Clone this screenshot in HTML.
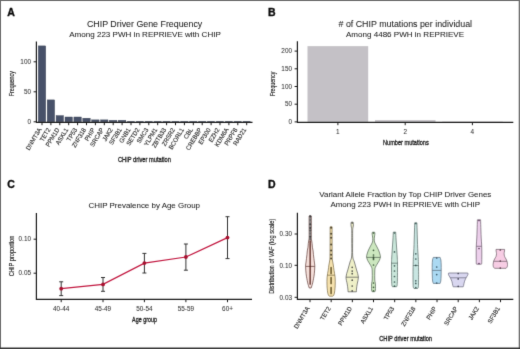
<!DOCTYPE html>
<html><head><meta charset="utf-8"><style>
html,body{margin:0;padding:0;background:#fff;}
svg{display:block;will-change:transform;}
text{font-family:"Liberation Sans", sans-serif;fill:#222;}
.lab{font-size:10.5px;font-weight:bold;fill:#0a0a0a;stroke:#0a0a0a;stroke-width:0.35px;}
.t1{font-size:8.85px;stroke:#222;stroke-width:0.05px;}
.t2{font-size:8.05px;stroke:#222;stroke-width:0.05px;}
.t3{font-size:7.95px;stroke:#222;stroke-width:0.05px;}
.tk{font-size:6.4px;fill:#333;stroke:#333;stroke-width:0.05px;}
.tkr{font-size:6.3px;fill:#2a2a2a;stroke:#2a2a2a;stroke-width:0.12px;}
.ax{font-size:8.1px;fill:#1a1a1a;stroke:#1a1a1a;stroke-width:0.32px;}
.axv{font-size:7.2px;fill:#1a1a1a;stroke:#1a1a1a;stroke-width:0.15px;}
</style></head><body>
<svg width="520" height="349" viewBox="0 0 520 349">
<defs><filter id="bl" x="0" y="0" width="100%" height="100%" color-interpolation-filters="sRGB"><feConvolveMatrix order="3" kernelMatrix="0.01 0.08 0.01 0.08 0.64 0.08 0.01 0.08 0.01" divisor="1" edgeMode="duplicate" preserveAlpha="true"/></filter></defs>
<g filter="url(#bl)">
<rect x="0" y="0" width="520" height="349" fill="#fff"/>
<g id="A">
<text x="7.3" y="15.9" class="lab">A</text>
<text x="144.6" y="26.8" class="t1" text-anchor="middle">CHIP Driver Gene Frequency</text>
<text x="145" y="36.6" class="t2" text-anchor="middle">Among 223 PWH in REPRIEVE with CHIP</text>
<rect x="38.30" y="45.90" width="7.4" height="75.90" fill="#475169" stroke="#373f52" stroke-width="0.4"/>
<rect x="47.20" y="99.90" width="7.4" height="21.90" fill="#475169" stroke="#373f52" stroke-width="0.4"/>
<rect x="56.10" y="115.62" width="7.4" height="6.18" fill="#475169" stroke="#373f52" stroke-width="0.4"/>
<rect x="65.00" y="117.00" width="7.4" height="4.80" fill="#475169" stroke="#373f52" stroke-width="0.4"/>
<rect x="73.90" y="117.00" width="7.4" height="4.80" fill="#475169" stroke="#373f52" stroke-width="0.4"/>
<rect x="82.80" y="118.20" width="7.4" height="3.60" fill="#475169" stroke="#373f52" stroke-width="0.4"/>
<rect x="91.70" y="119.88" width="7.4" height="1.92" fill="#475169" stroke="#373f52" stroke-width="0.4"/>
<rect x="100.60" y="119.88" width="7.4" height="1.92" fill="#475169" stroke="#373f52" stroke-width="0.4"/>
<rect x="109.50" y="120.30" width="7.4" height="1.50" fill="#475169" stroke="#373f52" stroke-width="0.4"/>
<rect x="118.40" y="120.30" width="7.4" height="1.50" fill="#475169" stroke="#373f52" stroke-width="0.4"/>
<rect x="127.30" y="121.20" width="7.4" height="0.60" fill="#475169" stroke="#373f52" stroke-width="0.4"/>
<rect x="136.20" y="121.20" width="7.4" height="0.60" fill="#475169" stroke="#373f52" stroke-width="0.4"/>
<rect x="145.10" y="121.20" width="7.4" height="0.60" fill="#475169" stroke="#373f52" stroke-width="0.4"/>
<rect x="154.00" y="121.20" width="7.4" height="0.60" fill="#475169" stroke="#373f52" stroke-width="0.4"/>
<rect x="162.90" y="121.20" width="7.4" height="0.60" fill="#475169" stroke="#373f52" stroke-width="0.4"/>
<rect x="171.80" y="121.20" width="7.4" height="0.60" fill="#475169" stroke="#373f52" stroke-width="0.4"/>
<rect x="180.70" y="121.20" width="7.4" height="0.60" fill="#475169" stroke="#373f52" stroke-width="0.4"/>
<rect x="189.60" y="121.20" width="7.4" height="0.60" fill="#475169" stroke="#373f52" stroke-width="0.4"/>
<rect x="198.50" y="121.20" width="7.4" height="0.60" fill="#475169" stroke="#373f52" stroke-width="0.4"/>
<rect x="207.40" y="121.20" width="7.4" height="0.60" fill="#475169" stroke="#373f52" stroke-width="0.4"/>
<rect x="216.30" y="121.20" width="7.4" height="0.60" fill="#475169" stroke="#373f52" stroke-width="0.4"/>
<rect x="225.20" y="121.20" width="7.4" height="0.60" fill="#475169" stroke="#373f52" stroke-width="0.4"/>
<rect x="234.10" y="121.20" width="7.4" height="0.60" fill="#475169" stroke="#373f52" stroke-width="0.4"/>
<rect x="243.00" y="121.20" width="7.4" height="0.60" fill="#475169" stroke="#373f52" stroke-width="0.4"/>
<line x1="36.4" y1="41.5" x2="36.4" y2="122.3" stroke="#1a1a1a" stroke-width="1.2"/>
<line x1="35.9" y1="122.3" x2="252.5" y2="122.3" stroke="#1a1a1a" stroke-width="1.2"/>
<line x1="33.6" y1="121.80" x2="36.4" y2="121.80" stroke="#1a1a1a" stroke-width="1"/>
<text x="31" y="124.00" class="tk" text-anchor="end">0</text>
<line x1="33.6" y1="91.80" x2="36.4" y2="91.80" stroke="#1a1a1a" stroke-width="1"/>
<text x="31" y="94.00" class="tk" text-anchor="end">50</text>
<line x1="33.6" y1="61.80" x2="36.4" y2="61.80" stroke="#1a1a1a" stroke-width="1"/>
<text x="31" y="64.00" class="tk" text-anchor="end">100</text>
<line x1="42.00" y1="122.3" x2="42.00" y2="125.2" stroke="#1a1a1a" stroke-width="1"/>
<text transform="translate(41.80,129.6) rotate(-59) scale(0.95,1)" class="tkr" text-anchor="end">DNMT3A</text>
<line x1="50.90" y1="122.3" x2="50.90" y2="125.2" stroke="#1a1a1a" stroke-width="1"/>
<text transform="translate(50.70,129.6) rotate(-59) scale(0.95,1)" class="tkr" text-anchor="end">TET2</text>
<line x1="59.80" y1="122.3" x2="59.80" y2="125.2" stroke="#1a1a1a" stroke-width="1"/>
<text transform="translate(59.60,129.6) rotate(-59) scale(0.95,1)" class="tkr" text-anchor="end">PPM1D</text>
<line x1="68.70" y1="122.3" x2="68.70" y2="125.2" stroke="#1a1a1a" stroke-width="1"/>
<text transform="translate(68.50,129.6) rotate(-59) scale(0.95,1)" class="tkr" text-anchor="end">ASXL1</text>
<line x1="77.60" y1="122.3" x2="77.60" y2="125.2" stroke="#1a1a1a" stroke-width="1"/>
<text transform="translate(77.40,129.6) rotate(-59) scale(0.95,1)" class="tkr" text-anchor="end">TP53</text>
<line x1="86.50" y1="122.3" x2="86.50" y2="125.2" stroke="#1a1a1a" stroke-width="1"/>
<text transform="translate(86.30,129.6) rotate(-59) scale(0.95,1)" class="tkr" text-anchor="end">ZNF318</text>
<line x1="95.40" y1="122.3" x2="95.40" y2="125.2" stroke="#1a1a1a" stroke-width="1"/>
<text transform="translate(95.20,129.6) rotate(-59) scale(0.95,1)" class="tkr" text-anchor="end">PHIP</text>
<line x1="104.30" y1="122.3" x2="104.30" y2="125.2" stroke="#1a1a1a" stroke-width="1"/>
<text transform="translate(104.10,129.6) rotate(-59) scale(0.95,1)" class="tkr" text-anchor="end">SRCAP</text>
<line x1="113.20" y1="122.3" x2="113.20" y2="125.2" stroke="#1a1a1a" stroke-width="1"/>
<text transform="translate(113.00,129.6) rotate(-59) scale(0.95,1)" class="tkr" text-anchor="end">JAK2</text>
<line x1="122.10" y1="122.3" x2="122.10" y2="125.2" stroke="#1a1a1a" stroke-width="1"/>
<text transform="translate(121.90,129.6) rotate(-59) scale(0.95,1)" class="tkr" text-anchor="end">SF3B1</text>
<line x1="131.00" y1="122.3" x2="131.00" y2="125.2" stroke="#1a1a1a" stroke-width="1"/>
<text transform="translate(130.80,129.6) rotate(-59) scale(0.95,1)" class="tkr" text-anchor="end">GNB1</text>
<line x1="139.90" y1="122.3" x2="139.90" y2="125.2" stroke="#1a1a1a" stroke-width="1"/>
<text transform="translate(139.70,129.6) rotate(-59) scale(0.95,1)" class="tkr" text-anchor="end">SETD2</text>
<line x1="148.80" y1="122.3" x2="148.80" y2="125.2" stroke="#1a1a1a" stroke-width="1"/>
<text transform="translate(148.60,129.6) rotate(-59) scale(0.95,1)" class="tkr" text-anchor="end">SMC3</text>
<line x1="157.70" y1="122.3" x2="157.70" y2="125.2" stroke="#1a1a1a" stroke-width="1"/>
<text transform="translate(157.50,129.6) rotate(-59) scale(0.95,1)" class="tkr" text-anchor="end">YLPM1</text>
<line x1="166.60" y1="122.3" x2="166.60" y2="125.2" stroke="#1a1a1a" stroke-width="1"/>
<text transform="translate(166.40,129.6) rotate(-59) scale(0.95,1)" class="tkr" text-anchor="end">ZBTB33</text>
<line x1="175.50" y1="122.3" x2="175.50" y2="125.2" stroke="#1a1a1a" stroke-width="1"/>
<text transform="translate(175.30,129.6) rotate(-59) scale(0.95,1)" class="tkr" text-anchor="end">ZRSR2</text>
<line x1="184.40" y1="122.3" x2="184.40" y2="125.2" stroke="#1a1a1a" stroke-width="1"/>
<text transform="translate(184.20,129.6) rotate(-59) scale(0.95,1)" class="tkr" text-anchor="end">BCORL1</text>
<line x1="193.30" y1="122.3" x2="193.30" y2="125.2" stroke="#1a1a1a" stroke-width="1"/>
<text transform="translate(193.10,129.6) rotate(-59) scale(0.95,1)" class="tkr" text-anchor="end">CBL</text>
<line x1="202.20" y1="122.3" x2="202.20" y2="125.2" stroke="#1a1a1a" stroke-width="1"/>
<text transform="translate(202.00,129.6) rotate(-59) scale(0.95,1)" class="tkr" text-anchor="end">CREBBP</text>
<line x1="211.10" y1="122.3" x2="211.10" y2="125.2" stroke="#1a1a1a" stroke-width="1"/>
<text transform="translate(210.90,129.6) rotate(-59) scale(0.95,1)" class="tkr" text-anchor="end">EP300</text>
<line x1="220.00" y1="122.3" x2="220.00" y2="125.2" stroke="#1a1a1a" stroke-width="1"/>
<text transform="translate(219.80,129.6) rotate(-59) scale(0.95,1)" class="tkr" text-anchor="end">EZH2</text>
<line x1="228.90" y1="122.3" x2="228.90" y2="125.2" stroke="#1a1a1a" stroke-width="1"/>
<text transform="translate(228.70,129.6) rotate(-59) scale(0.95,1)" class="tkr" text-anchor="end">KDM6A</text>
<line x1="237.80" y1="122.3" x2="237.80" y2="125.2" stroke="#1a1a1a" stroke-width="1"/>
<text transform="translate(237.60,129.6) rotate(-59) scale(0.95,1)" class="tkr" text-anchor="end">PRPF8</text>
<line x1="246.70" y1="122.3" x2="246.70" y2="125.2" stroke="#1a1a1a" stroke-width="1"/>
<text transform="translate(246.50,129.6) rotate(-59) scale(0.95,1)" class="tkr" text-anchor="end">RAD21</text>
<text transform="translate(13.9,83.7) rotate(-90)" class="axv" text-anchor="middle" textLength="25" lengthAdjust="spacingAndGlyphs">Frequency</text>
<text x="144.4" y="161.9" class="ax" text-anchor="middle" textLength="53" lengthAdjust="spacingAndGlyphs">CHIP driver mutation</text>
</g>
<g id="B">
<text x="268.1" y="15.9" class="lab">B</text>
<text x="405.3" y="26.6" class="t1" text-anchor="middle"># of CHIP mutations per individual</text>
<text x="405" y="36.6" class="t2" text-anchor="middle">Among 4486 PWH in REPRIEVE</text>
<rect x="307.5" y="46.14" width="60.7" height="75.76" fill="#c4c1c6"/>
<rect x="375" y="120.13" width="60.5" height="1.77" fill="#c4c1c6"/>
<rect x="442.2" y="121.55" width="60.5" height="0.35" fill="#c4c1c6"/>
<line x1="297.4" y1="41.2" x2="297.4" y2="122.3" stroke="#1a1a1a" stroke-width="1.2"/>
<line x1="296.9" y1="122.3" x2="513.3" y2="122.3" stroke="#1a1a1a" stroke-width="1.2"/>
<line x1="294.6" y1="121.90" x2="297.4" y2="121.90" stroke="#1a1a1a" stroke-width="1"/>
<text x="292" y="124.10" class="tk" text-anchor="end">0</text>
<line x1="294.6" y1="104.20" x2="297.4" y2="104.20" stroke="#1a1a1a" stroke-width="1"/>
<text x="292" y="106.40" class="tk" text-anchor="end">50</text>
<line x1="294.6" y1="86.50" x2="297.4" y2="86.50" stroke="#1a1a1a" stroke-width="1"/>
<text x="292" y="88.70" class="tk" text-anchor="end">100</text>
<line x1="294.6" y1="68.80" x2="297.4" y2="68.80" stroke="#1a1a1a" stroke-width="1"/>
<text x="292" y="71.00" class="tk" text-anchor="end">150</text>
<line x1="294.6" y1="51.10" x2="297.4" y2="51.10" stroke="#1a1a1a" stroke-width="1"/>
<text x="292" y="53.30" class="tk" text-anchor="end">200</text>
<line x1="337.9" y1="122.3" x2="337.9" y2="125.2" stroke="#1a1a1a" stroke-width="1"/>
<text x="337.9" y="133.6" class="tk" text-anchor="middle">1</text>
<line x1="405.2" y1="122.3" x2="405.2" y2="125.2" stroke="#1a1a1a" stroke-width="1"/>
<text x="405.2" y="133.6" class="tk" text-anchor="middle">2</text>
<line x1="472.4" y1="122.3" x2="472.4" y2="125.2" stroke="#1a1a1a" stroke-width="1"/>
<text x="472.4" y="133.6" class="tk" text-anchor="middle">4</text>
<text transform="translate(274.8,84) rotate(-90)" class="axv" text-anchor="middle" textLength="24.6" lengthAdjust="spacingAndGlyphs">Frequency</text>
<text x="405.9" y="144.8" class="ax" text-anchor="middle" textLength="45.7" lengthAdjust="spacingAndGlyphs">Number mutations</text>
</g>
<g id="C">
<text x="7.2" y="188.2" class="lab">C</text>
<text x="144.3" y="207.8" class="t3" text-anchor="middle">CHIP Prevalence by Age Group</text>
<line x1="36.4" y1="213" x2="36.4" y2="299.4" stroke="#1a1a1a" stroke-width="1.2"/>
<line x1="35.9" y1="299.4" x2="252" y2="299.4" stroke="#1a1a1a" stroke-width="1.2"/>
<line x1="33.6" y1="239.2" x2="36.4" y2="239.2" stroke="#1a1a1a" stroke-width="1"/>
<text x="31" y="241.40" class="tk" text-anchor="end">0.10</text>
<line x1="33.6" y1="273.2" x2="36.4" y2="273.2" stroke="#1a1a1a" stroke-width="1"/>
<text x="31" y="275.40" class="tk" text-anchor="end">0.05</text>
<line x1="61.2" y1="299.4" x2="61.2" y2="302.2" stroke="#1a1a1a" stroke-width="1"/>
<text x="61.2" y="311" class="tk" text-anchor="middle">40-44</text>
<line x1="103" y1="299.4" x2="103" y2="302.2" stroke="#1a1a1a" stroke-width="1"/>
<text x="103" y="311" class="tk" text-anchor="middle">45-49</text>
<line x1="144.4" y1="299.4" x2="144.4" y2="302.2" stroke="#1a1a1a" stroke-width="1"/>
<text x="144.4" y="311" class="tk" text-anchor="middle">50-54</text>
<line x1="185.9" y1="299.4" x2="185.9" y2="302.2" stroke="#1a1a1a" stroke-width="1"/>
<text x="185.9" y="311" class="tk" text-anchor="middle">55-59</text>
<line x1="227.5" y1="299.4" x2="227.5" y2="302.2" stroke="#1a1a1a" stroke-width="1"/>
<text x="227.5" y="311" class="tk" text-anchor="middle">60+</text>
<line x1="61.2" y1="281.8" x2="61.2" y2="295.6" stroke="#333" stroke-width="1"/>
<line x1="59.2" y1="281.8" x2="63.2" y2="281.8" stroke="#333" stroke-width="1"/>
<line x1="59.2" y1="295.6" x2="63.2" y2="295.6" stroke="#333" stroke-width="1"/>
<line x1="103" y1="277.5" x2="103" y2="291.3" stroke="#333" stroke-width="1"/>
<line x1="101" y1="277.5" x2="105" y2="277.5" stroke="#333" stroke-width="1"/>
<line x1="101" y1="291.3" x2="105" y2="291.3" stroke="#333" stroke-width="1"/>
<line x1="144.4" y1="253.4" x2="144.4" y2="273" stroke="#333" stroke-width="1"/>
<line x1="142.4" y1="253.4" x2="146.4" y2="253.4" stroke="#333" stroke-width="1"/>
<line x1="142.4" y1="273" x2="146.4" y2="273" stroke="#333" stroke-width="1"/>
<line x1="185.9" y1="244" x2="185.9" y2="270.2" stroke="#333" stroke-width="1"/>
<line x1="183.9" y1="244" x2="187.9" y2="244" stroke="#333" stroke-width="1"/>
<line x1="183.9" y1="270.2" x2="187.9" y2="270.2" stroke="#333" stroke-width="1"/>
<line x1="227.5" y1="216.7" x2="227.5" y2="258.6" stroke="#333" stroke-width="1"/>
<line x1="225.5" y1="216.7" x2="229.5" y2="216.7" stroke="#333" stroke-width="1"/>
<line x1="225.5" y1="258.6" x2="229.5" y2="258.6" stroke="#333" stroke-width="1"/>
<polyline points="61.2,288.7 103,284.4 144.4,263.1 185.9,257 227.5,237.6" fill="none" stroke="#c21840" stroke-width="1.25"/>
<circle cx="61.2" cy="288.7" r="1.9" fill="#a8102f"/>
<circle cx="103" cy="284.4" r="1.9" fill="#a8102f"/>
<circle cx="144.4" cy="263.1" r="1.9" fill="#a8102f"/>
<circle cx="185.9" cy="257" r="1.9" fill="#a8102f"/>
<circle cx="227.5" cy="237.6" r="1.9" fill="#a8102f"/>
<text transform="translate(13.6,256) rotate(-90)" class="axv" text-anchor="middle" textLength="40.7" lengthAdjust="spacingAndGlyphs">CHIP proportion</text>
<text x="144.5" y="322" class="ax" text-anchor="middle" textLength="24.8" lengthAdjust="spacingAndGlyphs">Age group</text>
</g>
<g id="D">
<text x="268.1" y="188.2" class="lab">D</text>
<text x="405.3" y="197.3" class="t3" text-anchor="middle">Variant Allele Fraction by Top CHIP Driver Genes</text>
<text x="405.2" y="207.0" class="t3" text-anchor="middle">Among 223 PWH in REPRIEVE with CHIP</text>
<line x1="297.4" y1="212.8" x2="297.4" y2="299.4" stroke="#1a1a1a" stroke-width="1.2"/>
<line x1="296.9" y1="299.4" x2="513.3" y2="299.4" stroke="#1a1a1a" stroke-width="1.2"/>
<line x1="294.6" y1="234" x2="297.4" y2="234" stroke="#1a1a1a" stroke-width="1"/>
<text x="292" y="236.20" class="tk" text-anchor="end">0.30</text>
<line x1="294.6" y1="265.3" x2="297.4" y2="265.3" stroke="#1a1a1a" stroke-width="1"/>
<text x="292" y="267.50" class="tk" text-anchor="end">0.10</text>
<line x1="294.6" y1="297.3" x2="297.4" y2="297.3" stroke="#1a1a1a" stroke-width="1"/>
<text x="292" y="299.50" class="tk" text-anchor="end">0.03</text>
<path d="M309.10,216.00 L311.30,216.00 C311.30,217.67 311.31,222.67 311.30,226.00 C311.29,229.33 311.22,233.72 311.25,236.00 C311.28,238.28 311.36,238.45 311.50,239.70 C311.64,240.95 311.95,242.25 312.10,243.50 C312.25,244.75 312.23,245.97 312.40,247.20 C312.57,248.43 312.92,249.65 313.10,250.90 C313.27,252.15 313.32,253.45 313.45,254.70 C313.58,255.95 313.75,257.18 313.90,258.40 C314.05,259.62 314.20,260.67 314.35,262.00 C314.50,263.33 314.81,264.43 314.80,266.40 C314.79,268.37 314.50,271.82 314.30,273.80 C314.10,275.78 313.87,276.78 313.60,278.30 C313.33,279.82 312.98,281.67 312.70,282.90 C312.42,284.13 312.17,284.85 311.90,285.70 C311.63,286.55 311.23,287.62 311.10,288.00 L309.30,288.00 C309.17,287.62 308.77,286.55 308.50,285.70 C308.23,284.85 307.98,284.13 307.70,282.90 C307.42,281.67 307.07,279.82 306.80,278.30 C306.53,276.78 306.30,275.78 306.10,273.80 C305.90,271.82 305.61,268.37 305.60,266.40 C305.59,264.43 305.90,263.33 306.05,262.00 C306.20,260.67 306.35,259.62 306.50,258.40 C306.65,257.18 306.82,255.95 306.95,254.70 C307.08,253.45 307.12,252.15 307.30,250.90 C307.48,249.65 307.83,248.43 308.00,247.20 C308.17,245.97 308.15,244.75 308.30,243.50 C308.45,242.25 308.76,240.95 308.90,239.70 C309.04,238.45 309.12,238.28 309.15,236.00 C309.18,233.72 309.11,229.33 309.10,226.00 C309.09,222.67 309.10,217.67 309.10,216.00 Z" fill="#f5dfda" stroke="#5e3a35" stroke-width="0.7"/>
<line x1="305.60" y1="266.4" x2="314.80" y2="266.4" stroke="#5e3a35" stroke-width="0.7"/>
<circle cx="310.20" cy="216.00" r="1.05" fill="#8a8282" fill-opacity="1.0"/>
<circle cx="310.20" cy="216.50" r="1.05" fill="#8a8282" fill-opacity="1.0"/>
<circle cx="310.20" cy="217.00" r="1.05" fill="#8a8282" fill-opacity="1.0"/>
<circle cx="310.20" cy="217.50" r="1.05" fill="#8a8282" fill-opacity="1.0"/>
<circle cx="310.20" cy="218.00" r="1.05" fill="#8a8282" fill-opacity="1.0"/>
<circle cx="310.20" cy="218.50" r="1.05" fill="#8a8282" fill-opacity="1.0"/>
<circle cx="310.20" cy="219.00" r="1.05" fill="#8a8282" fill-opacity="1.0"/>
<circle cx="310.20" cy="219.50" r="1.05" fill="#8a8282" fill-opacity="1.0"/>
<circle cx="310.20" cy="220.00" r="1.05" fill="#8a8282" fill-opacity="1.0"/>
<circle cx="310.20" cy="220.50" r="1.05" fill="#8a8282" fill-opacity="1.0"/>
<circle cx="310.20" cy="221.00" r="1.05" fill="#8a8282" fill-opacity="1.0"/>
<circle cx="310.20" cy="221.50" r="1.05" fill="#8a8282" fill-opacity="1.0"/>
<circle cx="310.20" cy="222.00" r="1.05" fill="#8a8282" fill-opacity="1.0"/>
<circle cx="310.20" cy="222.50" r="1.05" fill="#8a8282" fill-opacity="1.0"/>
<circle cx="310.20" cy="223.00" r="1.05" fill="#8a8282" fill-opacity="1.0"/>
<circle cx="310.20" cy="223.50" r="1.05" fill="#8a8282" fill-opacity="1.0"/>
<circle cx="310.20" cy="224.00" r="1.05" fill="#8a8282" fill-opacity="1.0"/>
<circle cx="310.20" cy="224.50" r="1.05" fill="#8a8282" fill-opacity="1.0"/>
<circle cx="310.20" cy="225.00" r="1.05" fill="#8a8282" fill-opacity="1.0"/>
<circle cx="310.20" cy="225.50" r="1.05" fill="#8a8282" fill-opacity="1.0"/>
<circle cx="310.20" cy="226.00" r="1.05" fill="#8a8282" fill-opacity="1.0"/>
<circle cx="310.20" cy="226.50" r="1.05" fill="#8a8282" fill-opacity="1.0"/>
<circle cx="310.20" cy="227.00" r="1.05" fill="#8a8282" fill-opacity="1.0"/>
<circle cx="310.20" cy="227.50" r="1.05" fill="#8a8282" fill-opacity="1.0"/>
<circle cx="310.20" cy="228.00" r="1.05" fill="#8a8282" fill-opacity="1.0"/>
<circle cx="310.20" cy="228.50" r="1.05" fill="#8a8282" fill-opacity="1.0"/>
<circle cx="310.20" cy="229.00" r="1.05" fill="#8a8282" fill-opacity="1.0"/>
<circle cx="310.20" cy="229.50" r="1.05" fill="#8a8282" fill-opacity="1.0"/>
<circle cx="310.20" cy="230.00" r="1.05" fill="#8a8282" fill-opacity="1.0"/>
<circle cx="310.20" cy="230.50" r="1.05" fill="#8a8282" fill-opacity="1.0"/>
<circle cx="310.20" cy="231.00" r="1.05" fill="#8a8282" fill-opacity="1.0"/>
<circle cx="310.20" cy="231.50" r="1.05" fill="#8a8282" fill-opacity="1.0"/>
<circle cx="310.20" cy="232.00" r="1.05" fill="#8a8282" fill-opacity="1.0"/>
<circle cx="310.20" cy="232.50" r="1.05" fill="#8a8282" fill-opacity="1.0"/>
<circle cx="310.20" cy="233.00" r="1.05" fill="#8a8282" fill-opacity="1.0"/>
<circle cx="310.20" cy="233.50" r="1.05" fill="#8a8282" fill-opacity="1.0"/>
<circle cx="310.20" cy="234.00" r="1.05" fill="#8a8282" fill-opacity="1.0"/>
<circle cx="310.20" cy="234.50" r="1.05" fill="#8a8282" fill-opacity="1.0"/>
<circle cx="310.20" cy="235.00" r="1.05" fill="#8a8282" fill-opacity="1.0"/>
<circle cx="310.20" cy="235.50" r="1.05" fill="#8a8282" fill-opacity="1.0"/>
<circle cx="310.20" cy="236.00" r="1.05" fill="#8a8282" fill-opacity="1.0"/>
<circle cx="310.20" cy="236.50" r="1.05" fill="#8a8282" fill-opacity="1.0"/>
<circle cx="310.20" cy="237.00" r="1.05" fill="#8a8282" fill-opacity="1.0"/>
<circle cx="310.20" cy="237.50" r="1.05" fill="#8a8282" fill-opacity="1.0"/>
<circle cx="310.20" cy="238.00" r="1.05" fill="#8a8282" fill-opacity="1.0"/>
<circle cx="310.20" cy="238.50" r="1.05" fill="#8a8282" fill-opacity="1.0"/>
<circle cx="310.20" cy="239.00" r="1.05" fill="#8a8282" fill-opacity="1.0"/>
<circle cx="310.20" cy="239.50" r="1.05" fill="#8a8282" fill-opacity="1.0"/>
<circle cx="310.20" cy="216.60" r="1.0" fill="#333" fill-opacity="0.9"/>
<circle cx="310.20" cy="220.00" r="0.9" fill="#555" fill-opacity="0.6"/>
<circle cx="310.20" cy="224.30" r="1.0" fill="#333" fill-opacity="0.85"/>
<circle cx="310.20" cy="228.00" r="1.0" fill="#333" fill-opacity="0.85"/>
<circle cx="310.20" cy="230.60" r="1.0" fill="#444" fill-opacity="0.8"/>
<circle cx="310.20" cy="233.50" r="0.9" fill="#555" fill-opacity="0.6"/>
<circle cx="310.20" cy="236.80" r="1.0" fill="#333" fill-opacity="0.85"/>
<circle cx="310.20" cy="239.00" r="0.9" fill="#444" fill-opacity="0.6"/>
<circle cx="310.20" cy="241.00" r="0.85" fill="#4a1810" fill-opacity="0.75"/>
<circle cx="310.20" cy="242.00" r="0.85" fill="#4a1810" fill-opacity="0.75"/>
<circle cx="310.20" cy="243.00" r="0.85" fill="#4a1810" fill-opacity="0.75"/>
<circle cx="310.20" cy="244.00" r="0.85" fill="#4a1810" fill-opacity="0.75"/>
<circle cx="310.20" cy="245.00" r="0.85" fill="#4a1810" fill-opacity="0.75"/>
<circle cx="310.20" cy="246.00" r="0.85" fill="#4a1810" fill-opacity="0.75"/>
<circle cx="310.20" cy="247.00" r="0.85" fill="#4a1810" fill-opacity="0.75"/>
<circle cx="310.20" cy="248.00" r="0.85" fill="#4a1810" fill-opacity="0.75"/>
<circle cx="310.20" cy="249.00" r="0.85" fill="#4a1810" fill-opacity="0.75"/>
<circle cx="310.20" cy="250.00" r="0.85" fill="#4a1810" fill-opacity="0.75"/>
<circle cx="310.20" cy="251.00" r="0.85" fill="#4a1810" fill-opacity="0.75"/>
<circle cx="310.20" cy="252.00" r="0.85" fill="#4a1810" fill-opacity="0.75"/>
<circle cx="310.20" cy="253.00" r="0.85" fill="#4a1810" fill-opacity="0.75"/>
<circle cx="310.20" cy="254.00" r="0.85" fill="#4a1810" fill-opacity="0.75"/>
<circle cx="310.20" cy="255.00" r="0.85" fill="#4a1810" fill-opacity="0.75"/>
<circle cx="310.20" cy="256.00" r="0.85" fill="#4a1810" fill-opacity="0.75"/>
<circle cx="310.20" cy="257.00" r="0.85" fill="#4a1810" fill-opacity="0.75"/>
<circle cx="310.20" cy="258.00" r="0.85" fill="#4a1810" fill-opacity="0.75"/>
<circle cx="310.20" cy="259.00" r="0.85" fill="#4a1810" fill-opacity="0.75"/>
<circle cx="310.20" cy="260.00" r="0.85" fill="#4a1810" fill-opacity="0.75"/>
<circle cx="310.20" cy="261.00" r="0.85" fill="#4a1810" fill-opacity="0.75"/>
<circle cx="310.20" cy="262.00" r="0.85" fill="#4a1810" fill-opacity="0.75"/>
<circle cx="310.20" cy="263.00" r="0.85" fill="#4a1810" fill-opacity="0.75"/>
<circle cx="310.20" cy="264.00" r="0.85" fill="#4a1810" fill-opacity="0.75"/>
<circle cx="310.20" cy="265.00" r="0.85" fill="#4a1810" fill-opacity="0.75"/>
<circle cx="310.20" cy="266.00" r="0.85" fill="#4a1810" fill-opacity="0.75"/>
<circle cx="310.20" cy="267.00" r="0.85" fill="#4a1810" fill-opacity="0.75"/>
<circle cx="310.20" cy="268.00" r="0.85" fill="#4a1810" fill-opacity="0.75"/>
<circle cx="310.20" cy="269.00" r="0.85" fill="#4a1810" fill-opacity="0.75"/>
<circle cx="310.20" cy="270.00" r="0.85" fill="#4a1810" fill-opacity="0.75"/>
<circle cx="310.20" cy="271.00" r="0.85" fill="#4a1810" fill-opacity="0.75"/>
<circle cx="310.20" cy="272.00" r="0.85" fill="#4a1810" fill-opacity="0.75"/>
<circle cx="310.20" cy="273.00" r="0.85" fill="#4a1810" fill-opacity="0.75"/>
<circle cx="310.20" cy="274.00" r="0.85" fill="#4a1810" fill-opacity="0.75"/>
<circle cx="310.20" cy="275.00" r="0.85" fill="#4a1810" fill-opacity="0.75"/>
<circle cx="310.20" cy="276.00" r="0.85" fill="#4a1810" fill-opacity="0.75"/>
<circle cx="310.20" cy="277.00" r="0.85" fill="#4a1810" fill-opacity="0.75"/>
<circle cx="310.20" cy="278.00" r="0.85" fill="#4a1810" fill-opacity="0.75"/>
<circle cx="310.20" cy="279.00" r="0.85" fill="#4a1810" fill-opacity="0.75"/>
<circle cx="310.20" cy="280.00" r="0.85" fill="#4a1810" fill-opacity="0.75"/>
<circle cx="310.20" cy="281.00" r="0.85" fill="#4a1810" fill-opacity="0.75"/>
<circle cx="310.20" cy="282.00" r="0.85" fill="#4a1810" fill-opacity="0.75"/>
<circle cx="310.20" cy="283.00" r="0.85" fill="#4a1810" fill-opacity="0.75"/>
<circle cx="310.20" cy="284.00" r="0.85" fill="#4a1810" fill-opacity="0.75"/>
<path d="M330.10,226.80 L332.10,226.80 C332.10,229.00 332.08,235.30 332.10,240.00 C332.12,244.70 332.15,251.67 332.20,255.00 C332.25,258.33 332.22,258.33 332.40,260.00 C332.58,261.67 333.03,263.28 333.30,265.00 C333.57,266.72 333.70,268.27 334.00,270.30 C334.30,272.33 334.90,274.72 335.10,277.20 C335.30,279.68 335.28,282.73 335.20,285.20 C335.12,287.67 334.85,290.32 334.60,292.00 C334.35,293.68 334.02,294.60 333.70,295.30 C333.38,296.00 332.87,296.05 332.70,296.20 L329.50,296.20 C329.33,296.05 328.82,296.00 328.50,295.30 C328.18,294.60 327.85,293.68 327.60,292.00 C327.35,290.32 327.08,287.67 327.00,285.20 C326.92,282.73 326.90,279.68 327.10,277.20 C327.30,274.72 327.90,272.33 328.20,270.30 C328.50,268.27 328.63,266.72 328.90,265.00 C329.17,263.28 329.62,261.67 329.80,260.00 C329.98,258.33 329.95,258.33 330.00,255.00 C330.05,251.67 330.08,244.70 330.10,240.00 C330.12,235.30 330.10,229.00 330.10,226.80 Z" fill="#f6e2ae" stroke="#7a6a45" stroke-width="0.7"/>
<line x1="327.42" y1="275.2" x2="334.78" y2="275.2" stroke="#7a6a45" stroke-width="0.7"/>
<circle cx="331.10" cy="227.70" r="1.0" fill="#3a3320" fill-opacity="0.85"/>
<circle cx="331.10" cy="233.70" r="1.0" fill="#3a3320" fill-opacity="0.85"/>
<circle cx="331.10" cy="237.70" r="1.0" fill="#3a3320" fill-opacity="0.85"/>
<circle cx="331.10" cy="244.60" r="1.0" fill="#3a3320" fill-opacity="0.85"/>
<circle cx="331.10" cy="250.60" r="1.0" fill="#3a3320" fill-opacity="0.85"/>
<circle cx="331.10" cy="254.70" r="1.0" fill="#3a3320" fill-opacity="0.85"/>
<circle cx="331.10" cy="258.40" r="1.0" fill="#3a3320" fill-opacity="0.85"/>
<circle cx="331.10" cy="267.50" r="0.85" fill="#4a3a10" fill-opacity="0.7"/>
<circle cx="331.10" cy="268.50" r="0.85" fill="#4a3a10" fill-opacity="0.7"/>
<circle cx="331.10" cy="269.50" r="0.85" fill="#4a3a10" fill-opacity="0.7"/>
<circle cx="331.10" cy="270.50" r="0.85" fill="#4a3a10" fill-opacity="0.7"/>
<circle cx="331.10" cy="271.50" r="0.85" fill="#4a3a10" fill-opacity="0.7"/>
<circle cx="331.10" cy="272.50" r="0.85" fill="#4a3a10" fill-opacity="0.7"/>
<circle cx="331.10" cy="273.50" r="0.85" fill="#4a3a10" fill-opacity="0.7"/>
<circle cx="331.10" cy="277.50" r="0.85" fill="#4a3a10" fill-opacity="0.7"/>
<circle cx="331.10" cy="278.50" r="0.85" fill="#4a3a10" fill-opacity="0.7"/>
<circle cx="331.10" cy="279.50" r="0.85" fill="#4a3a10" fill-opacity="0.7"/>
<circle cx="331.10" cy="280.50" r="0.85" fill="#4a3a10" fill-opacity="0.7"/>
<circle cx="331.10" cy="281.50" r="0.85" fill="#4a3a10" fill-opacity="0.7"/>
<circle cx="331.10" cy="282.50" r="0.85" fill="#4a3a10" fill-opacity="0.7"/>
<circle cx="331.10" cy="283.50" r="0.85" fill="#4a3a10" fill-opacity="0.7"/>
<circle cx="331.10" cy="287.50" r="0.85" fill="#4a3a10" fill-opacity="0.7"/>
<circle cx="331.10" cy="288.50" r="0.85" fill="#4a3a10" fill-opacity="0.7"/>
<circle cx="331.10" cy="289.50" r="0.85" fill="#4a3a10" fill-opacity="0.7"/>
<circle cx="331.10" cy="290.50" r="0.85" fill="#4a3a10" fill-opacity="0.7"/>
<circle cx="331.10" cy="291.50" r="0.85" fill="#4a3a10" fill-opacity="0.7"/>
<circle cx="331.10" cy="292.50" r="0.85" fill="#4a3a10" fill-opacity="0.7"/>
<circle cx="331.10" cy="293.50" r="0.85" fill="#4a3a10" fill-opacity="0.7"/>
<path d="M351.30,222.10 L353.10,222.10 C353.16,222.35 353.42,222.95 353.45,223.60 C353.48,224.25 353.41,225.18 353.30,226.00 C353.19,226.82 352.91,227.50 352.80,228.50 C352.69,229.50 352.67,230.08 352.65,232.00 C352.62,233.92 352.64,236.00 352.65,240.00 C352.66,244.00 352.41,252.33 352.70,256.00 C352.99,259.67 353.75,259.67 354.40,262.00 C355.05,264.33 355.93,267.50 356.60,270.00 C357.27,272.50 358.30,274.67 358.40,277.00 C358.50,279.33 357.52,282.00 357.20,284.00 C356.88,286.00 356.63,287.70 356.50,289.00 C356.37,290.30 356.42,291.33 356.40,291.80 L348.00,291.80 C347.98,291.33 348.03,290.30 347.90,289.00 C347.77,287.70 347.52,286.00 347.20,284.00 C346.88,282.00 345.90,279.33 346.00,277.00 C346.10,274.67 347.13,272.50 347.80,270.00 C348.47,267.50 349.35,264.33 350.00,262.00 C350.65,259.67 351.41,259.67 351.70,256.00 C351.99,252.33 351.74,244.00 351.75,240.00 C351.76,236.00 351.77,233.92 351.75,232.00 C351.73,230.08 351.71,229.50 351.60,228.50 C351.49,227.50 351.21,226.82 351.10,226.00 C350.99,225.18 350.92,224.25 350.95,223.60 C350.98,222.95 351.24,222.35 351.30,222.10 Z" fill="#eff0c8" stroke="#555" stroke-width="0.7"/>
<line x1="346.03" y1="277.2" x2="358.37" y2="277.2" stroke="#555" stroke-width="0.7"/>
<circle cx="352.20" cy="223.00" r="0.85" fill="#333" fill-opacity="0.85"/>
<circle cx="352.20" cy="267.30" r="0.85" fill="#333" fill-opacity="0.85"/>
<circle cx="352.20" cy="271.10" r="0.85" fill="#333" fill-opacity="0.85"/>
<circle cx="352.20" cy="273.70" r="0.85" fill="#333" fill-opacity="0.85"/>
<circle cx="352.20" cy="280.20" r="0.85" fill="#333" fill-opacity="0.85"/>
<circle cx="352.20" cy="286.00" r="0.85" fill="#333" fill-opacity="0.85"/>
<circle cx="352.20" cy="290.90" r="0.85" fill="#333" fill-opacity="0.85"/>
<path d="M372.40,232.20 L374.60,232.20 C374.65,232.43 374.90,233.00 374.90,233.60 C374.90,234.20 374.70,234.98 374.60,235.80 C374.50,236.62 374.32,237.47 374.30,238.50 C374.28,239.53 374.13,240.75 374.50,242.00 C374.87,243.25 375.83,244.67 376.50,246.00 C377.17,247.33 377.93,248.67 378.50,250.00 C379.07,251.33 379.58,252.83 379.90,254.00 C380.22,255.17 380.50,255.92 380.40,257.00 C380.30,258.08 379.83,259.33 379.30,260.50 C378.77,261.67 377.87,262.83 377.20,264.00 C376.53,265.17 375.70,266.33 375.30,267.50 C374.90,268.67 374.88,268.92 374.80,271.00 C374.72,273.08 374.70,277.92 374.80,280.00 C374.90,282.08 375.30,281.83 375.40,283.50 C375.50,285.17 375.48,288.63 375.40,290.00 C375.32,291.37 374.98,291.42 374.90,291.70 L372.10,291.70 C372.02,291.42 371.68,291.37 371.60,290.00 C371.52,288.63 371.50,285.17 371.60,283.50 C371.70,281.83 372.10,282.08 372.20,280.00 C372.30,277.92 372.28,273.08 372.20,271.00 C372.12,268.92 372.10,268.67 371.70,267.50 C371.30,266.33 370.47,265.17 369.80,264.00 C369.13,262.83 368.23,261.67 367.70,260.50 C367.17,259.33 366.70,258.08 366.60,257.00 C366.50,255.92 366.78,255.17 367.10,254.00 C367.42,252.83 367.93,251.33 368.50,250.00 C369.07,248.67 369.83,247.33 370.50,246.00 C371.17,244.67 372.13,243.25 372.50,242.00 C372.87,240.75 372.72,239.53 372.70,238.50 C372.68,237.47 372.50,236.62 372.40,235.80 C372.30,234.98 372.10,234.20 372.10,233.60 C372.10,233.00 372.35,232.43 372.40,232.20 Z" fill="#cce7bf" stroke="#526252" stroke-width="0.7"/>
<line x1="366.73" y1="257.4" x2="380.27" y2="257.4" stroke="#526252" stroke-width="0.7"/>
<circle cx="373.50" cy="233.00" r="0.85" fill="#2a462a" fill-opacity="0.85"/>
<circle cx="373.50" cy="250.30" r="0.85" fill="#2a462a" fill-opacity="0.85"/>
<circle cx="373.50" cy="255.00" r="0.85" fill="#2a462a" fill-opacity="0.85"/>
<circle cx="373.50" cy="257.00" r="0.85" fill="#2a462a" fill-opacity="0.85"/>
<circle cx="373.50" cy="258.20" r="0.85" fill="#2a462a" fill-opacity="0.85"/>
<circle cx="373.50" cy="259.40" r="0.85" fill="#2a462a" fill-opacity="0.85"/>
<circle cx="373.50" cy="265.00" r="0.85" fill="#2a462a" fill-opacity="0.85"/>
<circle cx="373.50" cy="283.00" r="0.85" fill="#2a462a" fill-opacity="0.85"/>
<circle cx="373.50" cy="287.30" r="0.85" fill="#2a462a" fill-opacity="0.85"/>
<circle cx="373.50" cy="290.80" r="0.85" fill="#2a462a" fill-opacity="0.85"/>
<path d="M393.30,232.10 L395.70,232.10 C395.77,233.42 395.92,237.02 396.10,240.00 C396.28,242.98 396.60,247.00 396.80,250.00 C397.00,253.00 397.18,255.83 397.30,258.00 C397.42,260.17 397.47,261.00 397.50,263.00 C397.53,265.00 397.52,267.17 397.50,270.00 C397.48,272.83 397.47,277.42 397.40,280.00 C397.33,282.58 397.25,284.38 397.10,285.50 C396.95,286.62 396.60,286.50 396.50,286.70 L392.50,286.70 C392.40,286.50 392.05,286.62 391.90,285.50 C391.75,284.38 391.67,282.58 391.60,280.00 C391.53,277.42 391.52,272.83 391.50,270.00 C391.48,267.17 391.47,265.00 391.50,263.00 C391.53,261.00 391.58,260.17 391.70,258.00 C391.82,255.83 392.00,253.00 392.20,250.00 C392.40,247.00 392.72,242.98 392.90,240.00 C393.08,237.02 393.23,233.42 393.30,232.10 Z" fill="#c9e6da" stroke="#566a64" stroke-width="0.7"/>
<line x1="391.50" y1="263.2" x2="397.50" y2="263.2" stroke="#566a64" stroke-width="0.7"/>
<circle cx="394.50" cy="233.00" r="0.85" fill="#2f4a44" fill-opacity="0.85"/>
<circle cx="394.50" cy="251.90" r="0.85" fill="#2f4a44" fill-opacity="0.85"/>
<circle cx="394.50" cy="265.80" r="0.85" fill="#2f4a44" fill-opacity="0.85"/>
<circle cx="394.50" cy="271.00" r="0.85" fill="#2f4a44" fill-opacity="0.85"/>
<circle cx="394.50" cy="276.50" r="0.85" fill="#2f4a44" fill-opacity="0.85"/>
<circle cx="394.50" cy="282.00" r="0.85" fill="#2f4a44" fill-opacity="0.85"/>
<circle cx="394.50" cy="286.20" r="0.85" fill="#2f4a44" fill-opacity="0.85"/>
<path d="M414.70,222.80 L416.90,222.80 C416.93,224.00 417.02,227.13 417.10,230.00 C417.18,232.87 417.30,236.88 417.40,240.00 C417.50,243.12 417.58,246.20 417.70,248.70 C417.82,251.20 417.98,252.85 418.10,255.00 C418.22,257.15 418.32,258.37 418.40,261.60 C418.48,264.83 418.58,270.67 418.60,274.40 C418.62,278.13 418.55,281.85 418.50,284.00 C418.45,286.15 418.45,286.55 418.30,287.30 C418.15,288.05 417.72,288.30 417.60,288.50 L414.00,288.50 C413.88,288.30 413.45,288.05 413.30,287.30 C413.15,286.55 413.15,286.15 413.10,284.00 C413.05,281.85 412.98,278.13 413.00,274.40 C413.02,270.67 413.12,264.83 413.20,261.60 C413.28,258.37 413.38,257.15 413.50,255.00 C413.62,252.85 413.78,251.20 413.90,248.70 C414.02,246.20 414.10,243.12 414.20,240.00 C414.30,236.88 414.42,232.87 414.50,230.00 C414.58,227.13 414.67,224.00 414.70,222.80 Z" fill="#c9e6e2" stroke="#566a66" stroke-width="0.7"/>
<line x1="413.14" y1="265.5" x2="418.46" y2="265.5" stroke="#566a66" stroke-width="0.7"/>
<circle cx="415.80" cy="223.50" r="0.85" fill="#2f4a4a" fill-opacity="0.85"/>
<circle cx="415.80" cy="253.80" r="0.85" fill="#2f4a4a" fill-opacity="0.85"/>
<circle cx="415.80" cy="259.00" r="0.85" fill="#2f4a4a" fill-opacity="0.85"/>
<circle cx="415.80" cy="265.40" r="0.85" fill="#2f4a4a" fill-opacity="0.85"/>
<circle cx="415.80" cy="280.80" r="0.85" fill="#2f4a4a" fill-opacity="0.85"/>
<circle cx="415.80" cy="283.40" r="0.85" fill="#2f4a4a" fill-opacity="0.85"/>
<circle cx="415.80" cy="287.50" r="0.85" fill="#2f4a4a" fill-opacity="0.85"/>
<path d="M433.30,257.40 L440.10,257.40 C440.23,257.83 440.72,258.73 440.90,260.00 C441.08,261.27 441.15,263.33 441.20,265.00 C441.25,266.67 441.22,268.17 441.20,270.00 C441.18,271.83 441.17,274.17 441.10,276.00 C441.03,277.83 440.97,279.77 440.80,281.00 C440.63,282.23 440.22,283.00 440.10,283.40 L433.30,283.40 C433.18,283.00 432.77,282.23 432.60,281.00 C432.43,279.77 432.37,277.83 432.30,276.00 C432.23,274.17 432.22,271.83 432.20,270.00 C432.18,268.17 432.15,266.67 432.20,265.00 C432.25,263.33 432.32,261.27 432.50,260.00 C432.68,258.73 433.17,257.83 433.30,257.40 Z" fill="#abd9f2" stroke="#5d6f7d" stroke-width="0.7"/>
<line x1="432.21" y1="270.4" x2="441.19" y2="270.4" stroke="#5d6f7d" stroke-width="0.7"/>
<circle cx="436.70" cy="258.00" r="0.85" fill="#2a4a5a" fill-opacity="0.85"/>
<circle cx="436.70" cy="267.00" r="0.85" fill="#2a4a5a" fill-opacity="0.85"/>
<circle cx="436.70" cy="274.60" r="0.85" fill="#2a4a5a" fill-opacity="0.85"/>
<circle cx="436.70" cy="283.00" r="0.85" fill="#2a4a5a" fill-opacity="0.85"/>
<path d="M448.60,273.00 L467.80,273.00 C467.83,273.20 468.07,273.75 468.00,274.20 C467.93,274.65 467.77,275.02 467.40,275.70 C467.03,276.38 466.30,277.28 465.80,278.30 C465.30,279.32 464.77,280.60 464.40,281.80 C464.03,283.00 463.80,284.67 463.60,285.50 C463.40,286.33 463.27,286.58 463.20,286.80 L453.20,286.80 C453.13,286.58 453.00,286.33 452.80,285.50 C452.60,284.67 452.37,283.00 452.00,281.80 C451.63,280.60 451.10,279.32 450.60,278.30 C450.10,277.28 449.37,276.38 449.00,275.70 C448.63,275.02 448.47,274.65 448.40,274.20 C448.33,273.75 448.57,273.20 448.60,273.00 Z" fill="#d9d7f0" stroke="#66667a" stroke-width="0.7"/>
<line x1="450.29" y1="277.8" x2="466.11" y2="277.8" stroke="#66667a" stroke-width="0.7"/>
<circle cx="458.20" cy="273.50" r="0.85" fill="#333344" fill-opacity="0.85"/>
<circle cx="458.20" cy="278.90" r="0.85" fill="#333344" fill-opacity="0.85"/>
<circle cx="458.20" cy="286.30" r="0.85" fill="#333344" fill-opacity="0.85"/>
<path d="M477.40,219.80 L480.60,219.80 C480.65,221.50 480.80,226.97 480.90,230.00 C481.00,233.03 481.08,235.67 481.20,238.00 C481.32,240.33 481.50,242.00 481.60,244.00 C481.70,246.00 481.77,247.67 481.80,250.00 C481.83,252.33 481.82,255.75 481.80,258.00 C481.78,260.25 481.80,262.47 481.70,263.50 C481.60,264.53 481.28,264.08 481.20,264.20 L476.80,264.20 C476.72,264.08 476.40,264.53 476.30,263.50 C476.20,262.47 476.22,260.25 476.20,258.00 C476.18,255.75 476.17,252.33 476.20,250.00 C476.23,247.67 476.30,246.00 476.40,244.00 C476.50,242.00 476.68,240.33 476.80,238.00 C476.92,235.67 477.00,233.03 477.10,230.00 C477.20,226.97 477.35,221.50 477.40,219.80 Z" fill="#edd0ec" stroke="#6a5a6a" stroke-width="0.7"/>
<line x1="476.32" y1="246.3" x2="481.68" y2="246.3" stroke="#6a5a6a" stroke-width="0.7"/>
<circle cx="479.00" cy="220.50" r="0.85" fill="#4a2a4a" fill-opacity="0.85"/>
<circle cx="479.00" cy="248.50" r="0.85" fill="#4a2a4a" fill-opacity="0.85"/>
<circle cx="479.00" cy="263.50" r="0.85" fill="#4a2a4a" fill-opacity="0.85"/>
<path d="M496.00,249.40 L504.60,249.40 C504.58,249.67 504.58,250.28 504.50,251.00 C504.42,251.72 504.08,252.78 504.10,253.70 C504.12,254.62 504.28,255.62 504.60,256.50 C504.92,257.38 505.58,258.17 506.00,259.00 C506.42,259.83 506.85,260.58 507.10,261.50 C507.35,262.42 507.48,263.62 507.50,264.50 C507.52,265.38 507.43,266.17 507.20,266.80 C506.97,267.43 506.28,268.05 506.10,268.30 L494.50,268.30 C494.32,268.05 493.63,267.43 493.40,266.80 C493.17,266.17 493.08,265.38 493.10,264.50 C493.12,263.62 493.25,262.42 493.50,261.50 C493.75,260.58 494.18,259.83 494.60,259.00 C495.02,258.17 495.68,257.38 496.00,256.50 C496.32,255.62 496.48,254.62 496.50,253.70 C496.52,252.78 496.18,251.72 496.10,251.00 C496.02,250.28 496.02,249.67 496.00,249.40 Z" fill="#f7cde4" stroke="#6a5a66" stroke-width="0.7"/>
<line x1="493.59" y1="261.3" x2="507.01" y2="261.3" stroke="#6a5a66" stroke-width="0.7"/>
<circle cx="500.30" cy="250.00" r="0.85" fill="#4a2a3a" fill-opacity="0.85"/>
<circle cx="500.30" cy="261.00" r="0.85" fill="#4a2a3a" fill-opacity="0.85"/>
<circle cx="500.30" cy="268.00" r="0.85" fill="#4a2a3a" fill-opacity="0.85"/>
<line x1="310.00" y1="299.4" x2="310.00" y2="302.2" stroke="#1a1a1a" stroke-width="1"/>
<text transform="translate(309.80,308.3) rotate(-59) scale(0.95,1)" class="tkr" text-anchor="end">DNMT3A</text>
<line x1="331.17" y1="299.4" x2="331.17" y2="302.2" stroke="#1a1a1a" stroke-width="1"/>
<text transform="translate(330.97,308.3) rotate(-59) scale(0.95,1)" class="tkr" text-anchor="end">TET2</text>
<line x1="352.34" y1="299.4" x2="352.34" y2="302.2" stroke="#1a1a1a" stroke-width="1"/>
<text transform="translate(352.14,308.3) rotate(-59) scale(0.95,1)" class="tkr" text-anchor="end">PPM1D</text>
<line x1="373.51" y1="299.4" x2="373.51" y2="302.2" stroke="#1a1a1a" stroke-width="1"/>
<text transform="translate(373.31,308.3) rotate(-59) scale(0.95,1)" class="tkr" text-anchor="end">ASXL1</text>
<line x1="394.68" y1="299.4" x2="394.68" y2="302.2" stroke="#1a1a1a" stroke-width="1"/>
<text transform="translate(394.48,308.3) rotate(-59) scale(0.95,1)" class="tkr" text-anchor="end">TP53</text>
<line x1="415.85" y1="299.4" x2="415.85" y2="302.2" stroke="#1a1a1a" stroke-width="1"/>
<text transform="translate(415.65,308.3) rotate(-59) scale(0.95,1)" class="tkr" text-anchor="end">ZNF318</text>
<line x1="437.02" y1="299.4" x2="437.02" y2="302.2" stroke="#1a1a1a" stroke-width="1"/>
<text transform="translate(436.82,308.3) rotate(-59) scale(0.95,1)" class="tkr" text-anchor="end">PHIP</text>
<line x1="458.19" y1="299.4" x2="458.19" y2="302.2" stroke="#1a1a1a" stroke-width="1"/>
<text transform="translate(457.99,308.3) rotate(-59) scale(0.95,1)" class="tkr" text-anchor="end">SRCAP</text>
<line x1="479.36" y1="299.4" x2="479.36" y2="302.2" stroke="#1a1a1a" stroke-width="1"/>
<text transform="translate(479.16,308.3) rotate(-59) scale(0.95,1)" class="tkr" text-anchor="end">JAK2</text>
<line x1="500.53" y1="299.4" x2="500.53" y2="302.2" stroke="#1a1a1a" stroke-width="1"/>
<text transform="translate(500.33,308.3) rotate(-59) scale(0.95,1)" class="tkr" text-anchor="end">SF3B1</text>
<text transform="translate(273.8,256.2) rotate(-90)" class="axv" text-anchor="middle" textLength="75.3" lengthAdjust="spacingAndGlyphs">Distribution of VAF (log scale)</text>
<text x="405.6" y="340.6" class="ax" text-anchor="middle" textLength="52.9" lengthAdjust="spacingAndGlyphs">CHIP driver mutation</text>
</g>
<rect x="0" y="0" width="520" height="1" fill="#666"/>
<rect x="0" y="0" width="1" height="349" fill="#686868"/>
<rect x="518.7" y="0" width="1.3" height="349" fill="#707070"/>
<rect x="0" y="347.5" width="520" height="1.5" fill="#3a3a3a"/>
</g>
</svg>
</body></html>
